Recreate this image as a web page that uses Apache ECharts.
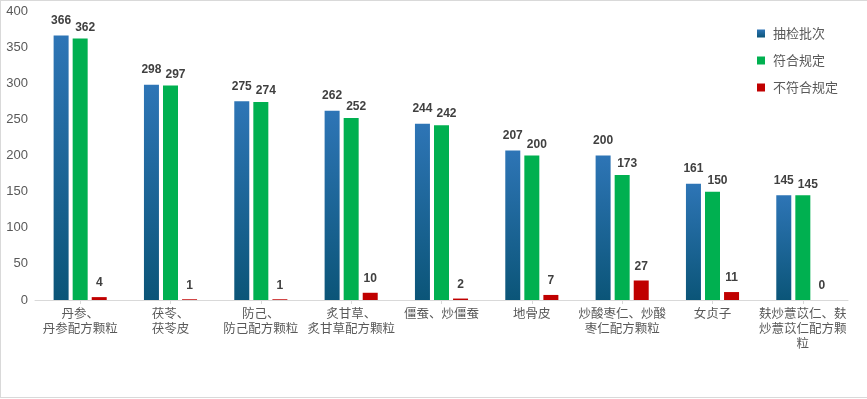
<!DOCTYPE html>
<html><head><meta charset="utf-8">
<script src="https://cdn.jsdelivr.net/npm/echarts@6/dist/echarts.min.js"></script>
<style>
html,body{margin:0;padding:0;background:#fff;}
#box{position:absolute;left:0;top:0;width:866px;height:396px;border:1px solid #d9d9d9;border-right:none;}
#c{width:867px;height:399px;position:absolute;left:0;top:0;}
</style></head>
<body><div id="box"></div><div id="c"></div>
<script>
const categories = ['丹参、\n丹参配方颗粒','茯苓、\n茯苓皮','防己、\n防己配方颗粒','炙甘草、\n炙甘草配方颗粒','僵蚕、炒僵蚕','地骨皮','炒酸枣仁、炒酸\n枣仁配方颗粒','女贞子','麸炒薏苡仁、麸\n炒薏苡仁配方颗\n粒'];
const sampled = [366,298,275,262,244,207,200,161,145];
const compliant = [362,297,274,252,242,200,173,150,145];
const nonCompliant = [4,1,1,10,2,7,27,11,0];
const yTicks = {min:0, max:400, interval:50};

const chart = echarts.init(document.getElementById('c'), null, {renderer:'canvas'});
function lbl(distance, offsetX){
  return {show:true, position:'top', distance:distance, offset:[offsetX,0], color:'#404040', fontWeight:'bold', fontSize:12,
    fontFamily:'Liberation Sans, Arial, sans-serif'};
}
chart.setOption({
  animation:false,
  backgroundColor:'transparent',
  grid:{left:35, right:19, top:11, bottom:99},
  legend:{orient:'vertical', right:24, top:22, itemWidth:8, itemHeight:8, itemGap:14, icon:'rect',
    textStyle:{color:'#595959', fontSize:13, padding:[0,0,0,3], fontFamily:'Noto Sans CJK SC'},
    data:['抽检批次','符合规定','不符合规定']},
  xAxis:{type:'category', data:categories,
    axisLine:{lineStyle:{color:'#d9d9d9'}},
    axisTick:{show:true, alignWithLabel:true, length:4, lineStyle:{color:'#d9d9d9'}},
    axisLabel:{interval:0, color:'#595959', fontSize:12.5, lineHeight:15, margin:6, fontFamily:'Noto Sans CJK SC'}},
  yAxis:{type:'value', min:yTicks.min, max:yTicks.max, interval:yTicks.interval,
    axisLine:{show:false}, axisTick:{show:false}, splitLine:{show:false},
    axisLabel:{color:'#595959', fontSize:13, margin:7, fontFamily:'Liberation Sans, Arial, sans-serif'}},
  series:[
    {name:'抽检批次', type:'bar', data:sampled, barWidth:15, barGap:'27%',
      itemStyle:{color:new echarts.graphic.LinearGradient(0,0,0,1,[{offset:0,color:'#2e75b6'},{offset:1,color:'#0b5578'}])},
      label:lbl(9,0)},
    {name:'符合规定', type:'bar', data:compliant, barWidth:15, barGap:'27%',
      itemStyle:{color:'#00b050'}, label:lbl(5,5)},
    {name:'不符合规定', type:'bar', data:nonCompliant, barWidth:15, barGap:'27%',
      itemStyle:{color:'#c00000'}, label:lbl(8,0)}
  ]
});
</script></body></html>
